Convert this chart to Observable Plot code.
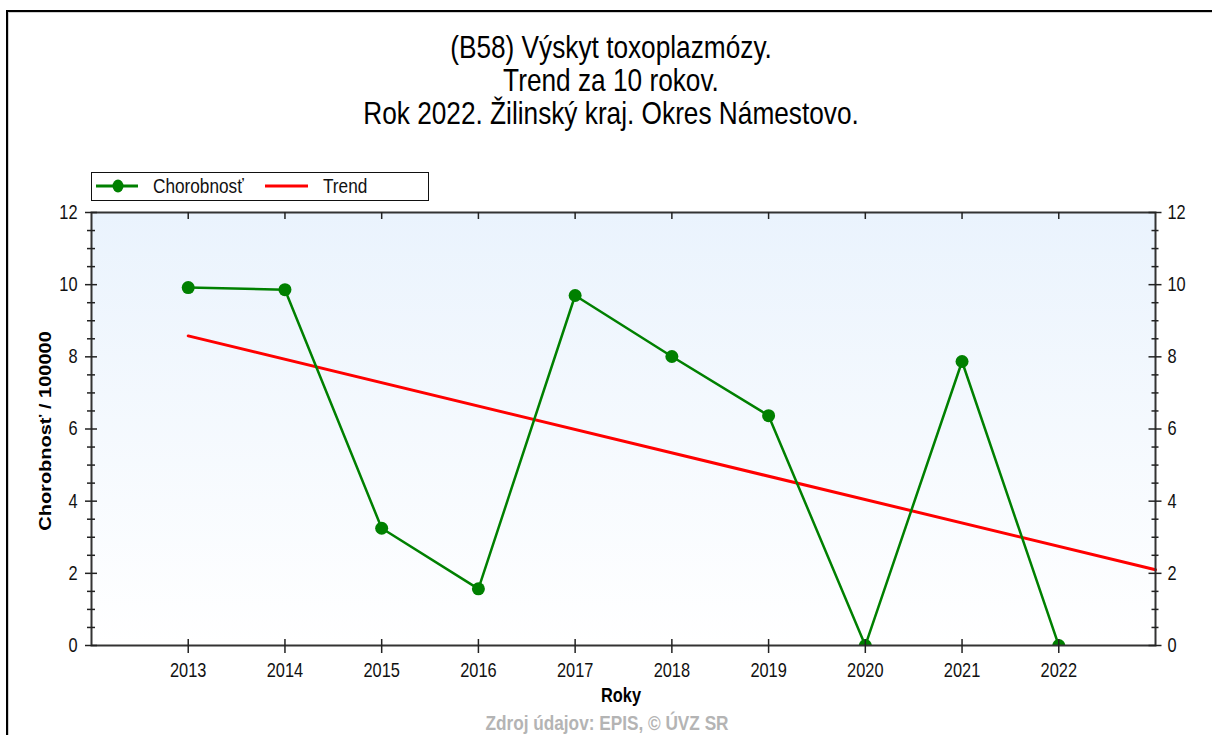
<!DOCTYPE html>
<html>
<head>
<meta charset="utf-8">
<script src="https://cdn.jsdelivr.net/npm/d3@7"></script>
<script src="https://cdn.jsdelivr.net/npm/@observablehq/plot@0.6"></script>
<style>
  html, body { margin: 0; padding: 0; background: #fff; }
  #wrap { position: relative; width: 1212px; height: 735px; overflow: hidden; background: #fff; }
  #border { position: absolute; left: 6px; top: 10px; right: -10px; bottom: -10px;
            border-top: 2px solid #000; border-left: 2px solid #000; }
  #border2 { position: absolute; left: 8px; top: 12px; right: -10px; bottom: -10px;
            border-top: 1px solid #d0d0d0; border-left: 1px solid #d0d0d0; }
  #bg { position: absolute; left: 91px; top: 212px; width: 1064px; height: 433px;
        background: linear-gradient(to bottom, #eaf3fd 0%, #ffffff 100%); }
  #chart { position: absolute; left: 0; top: 0; }
  #overlay { position: absolute; left: 0; top: 0; pointer-events: none; }
</style>
</head>
<body>
<div id="wrap">
  <div id="border"></div>
  <div id="border2"></div>
  <div id="bg"></div>
  <div id="chart"></div>
  <svg id="overlay" width="1212" height="735" xmlns="http://www.w3.org/2000/svg"></svg>
</div>
<script>
// ---- data ----
const years = [2013, 2014, 2015, 2016, 2017, 2018, 2019, 2020, 2021, 2022];
const rates = [9.92, 9.86, 3.25, 1.57, 9.70, 8.01, 6.37, 0, 7.87, 0];
const trendYears = [2013, 2023];
const trendRates = [8.58, 2.10];
const yTickLabels = [0, 2, 4, 6, 8, 10, 12];
const yMinorTicks = [0.5, 1, 1.5, 2.5, 3, 3.5, 4.5, 5, 5.5, 6.5, 7, 7.5, 8.5, 9, 9.5, 10.5, 11, 11.5];
const xTickLabels = [2013, 2014, 2015, 2016, 2017, 2018, 2019, 2020, 2021, 2022];

const titleLines = ["(B58) Výskyt toxoplazmózy.", "Trend za 10 rokov.", "Rok 2022. Žilinský kraj. Okres Námestovo."];
const seriesName = "Chorobnosť";
const trendName = "Trend";
const yTitle = "Chorobnosť / 100000";
const xTitle = "Roky";
const caption = "Zdroj údajov: EPIS, © ÚVZ SR";

const data = years.map((y, i) => ({year: y, rate: rates[i]}));
const trend = trendYears.map((y, i) => ({year: y, rate: trendRates[i]}));

const W = 1212, H = 735, ML = 91, MR = 57, MT = 212, MB = 90;
const PW = W - ML - MR, PH = H - MT - MB;
const tickColor = "#222";
const SQ = 0.82; // horizontal squeeze of the reference's lettering
const font = '"Liberation Sans", Arial, sans-serif';

const chart = Plot.plot({
  width: W, height: H,
  marginLeft: ML, marginRight: MR, marginTop: MT, marginBottom: MB,
  x: {domain: [2012, 2023], label: null},
  y: {domain: [0, 12], label: null},
  style: {
    background: "transparent",
    fontFamily: font,
    fontSize: "20px",
    color: "#111"
  },
  marks: [
    Plot.line(trend, {x: "year", y: "rate", stroke: "#ff0000", strokeWidth: 3}),
    Plot.line(data, {x: "year", y: "rate", stroke: "#008000", strokeWidth: 2.5, clip: true}),
    Plot.dot(data, {x: "year", y: "rate", r: 6.5, fill: "#008000", stroke: "none", clip: true}),
    Plot.frame({stroke: "#333", strokeWidth: 2}),
    // left axis ticks (crossing)
    Plot.tickY(yTickLabels, {y: d => d, stroke: tickColor, strokeWidth: 1.5, insetRight: PW - 12, dx: -6}),
    Plot.tickY(yMinorTicks, {y: d => d, stroke: tickColor, strokeWidth: 1.5, insetRight: PW - 8, dx: -4}),
    // right axis ticks (crossing)
    Plot.tickY(yTickLabels, {y: d => d, stroke: tickColor, strokeWidth: 1.5, insetLeft: PW - 13, dx: 6.5}),
    Plot.tickY(yMinorTicks, {y: d => d, stroke: tickColor, strokeWidth: 1.5, insetLeft: PW - 7, dx: 3.5}),
    // bottom ticks (crossing) and top ticks (inward)
    Plot.tickX(xTickLabels, {x: d => d, stroke: tickColor, strokeWidth: 1.5, insetTop: PH - 14, dy: 8}),
    Plot.tickX(xTickLabels, {x: d => d, stroke: tickColor, strokeWidth: 1.5, insetBottom: PH - 7}),
    Plot.axisY({anchor: "left", ticks: yTickLabels, tickSize: 0, tickPadding: 14, label: null, tickFormat: d => String(d)}),
    Plot.axisY({anchor: "right", ticks: yTickLabels, tickSize: 0, tickPadding: 12, label: null, tickFormat: d => String(d)}),
    Plot.axisX({anchor: "bottom", ticks: xTickLabels, tickSize: 0, tickPadding: 17, label: null, tickFormat: d => String(d)})
  ]
});
document.getElementById("chart").appendChild(chart);

// squeeze tick labels horizontally about their anchor
d3.select(chart).selectAll("text").each(function() {
  const t = d3.select(this);
  const tr = t.attr("transform");
  if (tr) {
    t.attr("transform", tr + ` scale(${SQ},1)`);
  } else {
    const x = +(t.attr("x") || 0), y = +(t.attr("y") || 0);
    t.attr("x", null).attr("y", null).attr("transform", `translate(${x},${y}) scale(${SQ},1)`);
  }
});

// ---- overlay texts & legend ----
const ov = d3.select("#overlay");
function sqText(x, y, str, size, opts = {}) {
  return ov.append("text")
    .attr("transform", `translate(${x},${y}) scale(${SQ},1)`)
    .attr("text-anchor", opts.anchor || "start")
    .attr("font-family", font)
    .attr("font-weight", opts.weight || "normal")
    .attr("font-size", size)
    .attr("fill", opts.fill || "#000")
    .text(str);
}
const titleBase = [58, 91, 124];
titleLines.forEach((t, i) => sqText(611, titleBase[i], t, 32, {anchor: "middle"}));

// legend
ov.append("rect").attr("x", 91.5).attr("y", 172.5).attr("width", 337).attr("height", 28)
  .attr("fill", "#fff").attr("stroke", "#111").attr("stroke-width", 1);
ov.append("line").attr("x1", 96).attr("x2", 138).attr("y1", 186).attr("y2", 186)
  .attr("stroke", "#008000").attr("stroke-width", 3);
ov.append("ellipse").attr("cx", 118).attr("cy", 186).attr("rx", 5.5).attr("ry", 6.5).attr("fill", "#008000");
sqText(153, 193, seriesName, 21, {fill: "#111"});
ov.append("line").attr("x1", 265).attr("x2", 308).attr("y1", 186).attr("y2", 186)
  .attr("stroke", "#ff0000").attr("stroke-width", 3);
sqText(323, 193, trendName, 21, {fill: "#111"});

// y title
ov.append("text").attr("transform", "translate(51,431) rotate(-90) scale(1,0.85)")
  .attr("text-anchor", "middle").attr("font-family", font)
  .attr("font-weight", "bold").attr("font-size", 20).attr("fill", "#000").text(yTitle);

// x title
sqText(621, 702, xTitle, 20, {anchor: "middle", weight: "bold"});

// caption
sqText(607, 730, caption, 21, {anchor: "middle", weight: "bold", fill: "#b4b4b4"});
</script>
</body>
</html>
